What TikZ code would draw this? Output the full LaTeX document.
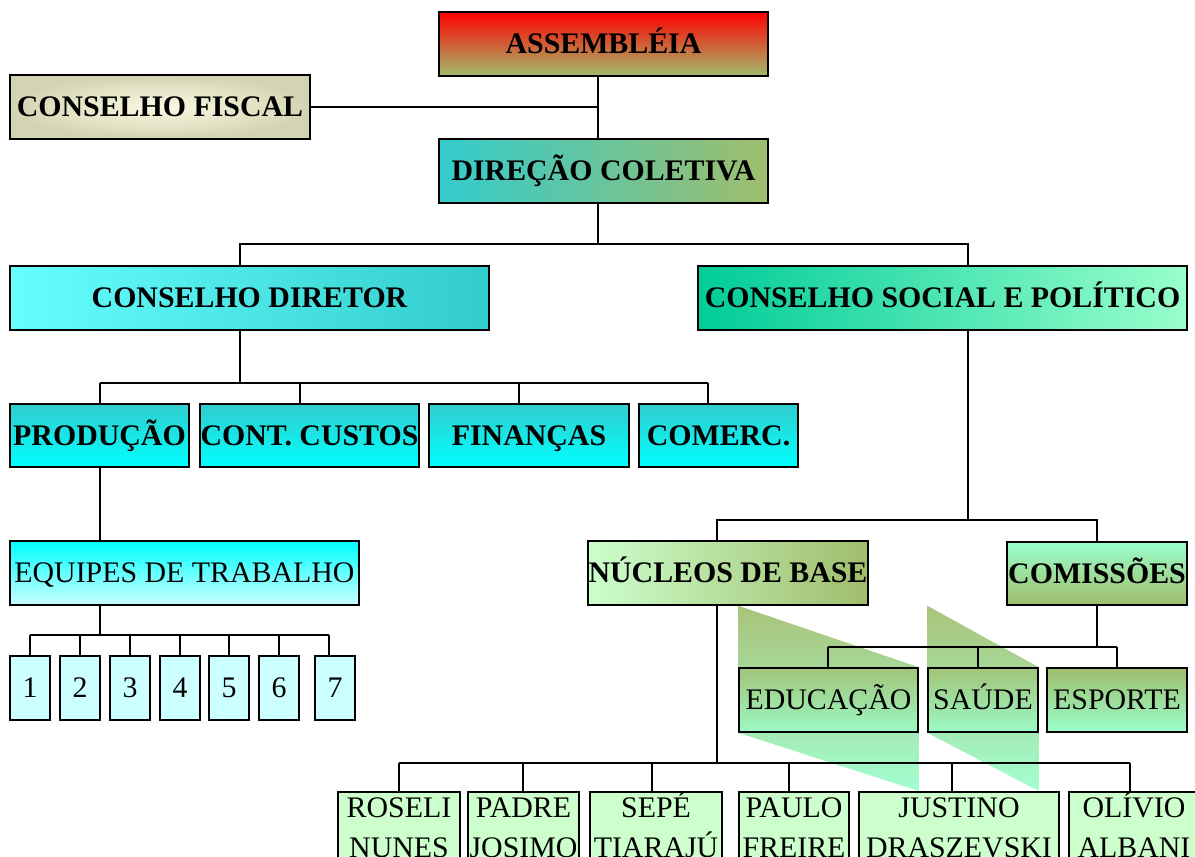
\documentclass[tikz,border=0pt]{standalone}
\usepackage{fontspec}
\setmainfont{Liberation Serif}
\usetikzlibrary{positioning, backgrounds}

\definecolor{oliva}{HTML}{A0BD6C}
\definecolor{menta}{HTML}{99FFCC}
\definecolor{verdeclaro}{HTML}{CCFFCC}
\definecolor{ciano}{HTML}{00FFFF}
\definecolor{cianoclaro}{HTML}{CCFFFF}
\definecolor{cianomedio}{HTML}{66FFFF}
\definecolor{turquesa}{HTML}{33CCCC}
\definecolor{marinho}{HTML}{00CC99}
\definecolor{creme}{HTML}{FAFAE2}
\definecolor{bege}{HTML}{D4D4B4}

% nome em duas linhas, linha de base na primeira
\newcommand{\duaslinhas}[2]{\begin{tabular}[t]{@{}c@{}}#1\\#2\end{tabular}}

\begin{document}
\begin{tikzpicture}[x=0.02cm, y=-0.02cm,
	caixa/.style={draw, line width=0.85pt, inner sep=0pt, text height=11.3pt, text depth=0pt, font=\fontsize{17}{22}\selectfont},
	negrito/.style={caixa, font=\fontsize{17}{22}\selectfont\bfseries},
	tam/.style 2 args={minimum width=#1*0.02cm, minimum height=#2*0.02cm},
	nome/.style={draw, line width=0.85pt, fill=verdeclaro, anchor=north, inner sep=0pt, text height=26*0.02cm, text depth=60*0.02cm, font=\fontsize{17}{22.7}\selectfont},
	sombra/.style={top color=oliva, bottom color=menta, opacity=0.9},
	linha/.style={line width=0.6pt}]
	
	\useasboundingbox (0,0) rectangle (1195,856);
	\clip (0,0) rectangle (1195,856);
	
	% Assembleia, conselho fiscal, direcao
	\node[negrito, tam={329}{64}, top color=red, bottom color=oliva] (assembleia) at (603.5,44) {ASSEMBLÉIA};
	\node[negrito, tam={300}{64}, inner color=creme, outer color=bege] (fiscal) at (160,107) {CONSELHO FISCAL};
	\node[negrito, tam={329}{64}, left color=turquesa, right color=oliva] (direcao) at (603.5,171) {DIREÇÃO COLETIVA};
	
	\coordinate (t1) at (598,107);
	\draw[linha] (assembleia.south -| t1) -- (direcao.north -| t1);
	\draw[linha] (fiscal) -- (t1);
	
	% Conselhos
	\node[negrito, tam={479}{64}, left color=cianomedio, right color=turquesa] (cdiretor) at (249.5,298) {CONSELHO DIRETOR};
	\node[negrito, tam={489}{64}, left color=marinho, right color=menta] (csocial) at (942.5,298) {CONSELHO SOCIAL E POLÍTICO};
	
	\coordinate (b1) at (240,244);
	\coordinate (b2) at (968,244);
	\draw[linha] (direcao.south -| t1) -- (t1 |- b1);
	\draw[linha] (cdiretor.north -| b1) -- (b1) -- (b2) -- (csocial.north -| b2);
	
	% Setores
	\node[negrito, tam={179}{63}, top color=turquesa, bottom color=ciano] (producao) at (99.5,435.5) {PRODUÇÃO};
	\node[negrito, tam={219}{63}, top color=turquesa, bottom color=ciano] (custos) at (309.5,435.5) {CONT. CUSTOS};
	\node[negrito, tam={200}{63}, top color=turquesa, bottom color=ciano] (financas) at (529,435.5) {FINANÇAS};
	\node[negrito, tam={159}{63}, top color=turquesa, bottom color=ciano] (comerc) at (718.5,435.5) {COMERC.};
	
	\coordinate (b3) at (240,383);
	\foreach \n/\x in {producao/100, custos/300, financas/519, comerc/708}
		\coordinate (d\n) at (\x,383);
	\draw[linha] (cdiretor.south -| b3) -- (b3);
	\draw[linha] (dproducao) -- (dcomerc);
	\foreach \n in {producao, custos, financas, comerc}
		\draw[linha] (d\n) -- (\n.north -| d\n);
	
	% Equipes
	\node[caixa, tam={349}{64}, top color=ciano, bottom color=cianoclaro] (equipes) at (184.5,573) {EQUIPES DE TRABALHO};
	\coordinate (b5) at (100,635);
	\draw[linha] (producao.south -| b5) -- (equipes.north -| b5);
	
	\foreach \i/\x/\d in {1/30/30, 2/80/80, 3/130/130, 4/180/180, 5/229/229, 6/279/279, 7/335/329} {
		\node[caixa, tam={40}{64}, fill=cianoclaro] (e\i) at (\x,688) {\i};
		\coordinate (de\i) at (\d,635);
		\draw[linha] (de\i) -- (e\i.north -| de\i);
	}
	\draw[linha] (equipes.south -| b5) -- (b5);
	\draw[linha] (de1) -- (de7);
	
	% Nucleos e comissoes
	\node[negrito, tam={280}{64}, left color=verdeclaro, right color=oliva] (nucleos) at (728,573) {NÚCLEOS DE BASE};
	\node[negrito, tam={180}{63}, top color=menta, bottom color=oliva] (comissoes) at (1097,573.5) {COMISSÕES};
	
	\coordinate (b6) at (968,520);
	\coordinate (dn) at (717,520);
	\coordinate (dc) at (1097,520);
	\draw[linha] (csocial.south -| b6) -- (b6);
	\draw[linha] (nucleos.north -| dn) -- (dn) -- (dc) -- (comissoes.north -| dc);
	
	\node[caixa, tam={179}{64}, top color=oliva, bottom color=menta, fill opacity=0.7, text opacity=1] (educacao) at (828.5,700) {EDUCAÇÃO};
	\node[caixa, tam={110}{64}, top color=oliva, bottom color=menta, fill opacity=0.7, text opacity=1] (saude) at (983,700) {SAÚDE};
	\node[caixa, tam={140}{64}, top color=oliva, bottom color=menta] (esporte) at (1117,700) {ESPORTE};
	
	\coordinate (b7) at (1097,647);
	\foreach \n/\x in {educacao/828, saude/978, esporte/1117}
		\coordinate (d\n) at (\x,647);
	\draw[linha] (comissoes.south -| b7) -- (b7);
	\draw[linha] (deducacao) -- (desporte);
	\foreach \n in {educacao, saude, esporte}
		\draw[linha] (d\n) -- (\n.north -| d\n);
	
	% Nucleos de base
	\foreach \n/\x/\w/\a/\b in {roseli/399/122/ROSELI/NUNES, josimo/523.5/111/PADRE/JOSIMO, sepe/656/132/SEPÉ/TIARAJÚ, paulo/794/110/PAULO/FREIRE, justino/959/200/JUSTINO/DRASZEVSKI, olivio/1134/130/OLÍVIO/ALBANI}
		\node[nome, minimum width=\w*0.02cm] (\n) at (\x,791) {\duaslinhas{\a}{\b}};
	
	\coordinate (b8) at (717,763);
	\foreach \n/\x in {roseli/399, josimo/523, sepe/652, paulo/789, justino/952, olivio/1130}
		\coordinate (d\n) at (\x,763);
	\draw[linha] (nucleos.south -| b8) -- (b8);
	\draw[linha] (droseli) -- (dolivio);
	\foreach \n in {roseli, josimo, sepe, paulo, justino, olivio}
		\draw[linha] (d\n) -- (\n.north -| d\n);
	
	% Sombras
	\begin{scope}[on background layer]
		\fill[white] (0,0) rectangle (1195,856);
		\shade[sombra] (educacao.north west |- nucleos.south) -- (educacao.north east) -- (educacao.south east |- justino.north) -- (educacao.south west) -- cycle;
		\shade[sombra] (saude.north west |- nucleos.south) -- (saude.north east) -- (saude.south east |- justino.north) -- (saude.south west) -- cycle;
	\end{scope}
\end{tikzpicture}
\end{document}
